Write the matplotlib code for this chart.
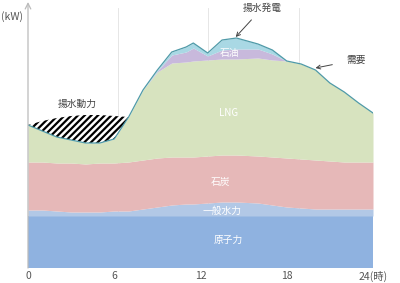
import matplotlib
matplotlib.use("Agg")
import matplotlib.pyplot as plt
import numpy as np

plt.rcParams['font.family'] = ['Noto Sans CJK JP', 'DejaVu Sans']
plt.rcParams['hatch.linewidth'] = 1.6

# hours of day (extra points around the midday peak)
hours = [0, 1, 2, 3, 4, 5, 6, 7, 8, 9, 10, 11, 11.5, 12.5, 13.5, 14.5,
         16, 17, 18, 19, 20, 21, 22, 23, 24]

# cumulative tops of each stacked layer (arbitrary kW units)
nuclear = [52] * len(hours)
hydro = [58, 58, 57, 56, 56, 56, 57, 57, 59, 61, 63, 64, 64, 65, 66, 66,
         65, 63, 61, 60, 59, 59, 59, 59, 59]
coal = [106, 106, 105, 105, 104, 105, 105, 106, 108, 110, 111, 111, 111, 112, 113, 113,
        112, 111, 110, 109, 108, 107, 106, 106, 106]
lng = [143, 137, 131, 128, 125, 125, 129, 151, 178, 196, 205, 206, 207, 208, 209, 209,
       210, 208, 207, 204, 198, 185, 176, 165, 155]
oil = [143, 137, 131, 128, 125, 125, 129, 151, 178, 197, 213, 216, 220, 212, 218, 219,
       219, 214, 207, 204, 198, 185, 176, 165, 155]
demand = [143, 137, 131, 128, 125, 125, 129, 151, 178, 198, 216, 221, 225, 215, 228, 230,
          224, 218, 207, 204, 198, 185, 176, 165, 155]

# pumping power (night), top of the hatched area
pump_hours = [0, 1, 2, 3, 4, 5, 6, 7]
pump_top = [143, 147, 150, 152, 153, 153, 152, 151]

c_nuclear = '#8fb2e0'
c_hydro = '#b2c8e6'
c_coal = '#e6b8b8'
c_lng = '#d7e3bf'
c_oil = '#c8b9dc'
c_pump = '#a9d8e4'
c_line = '#4f9aa8'
c_text = '#444444'
c_axis = '#bbbbbb'

fig = plt.figure(figsize=(4.0, 2.83), dpi=100)
ax = fig.add_axes([28 / 400, 15 / 283, 345 / 400, 265 / 283])

x = np.array(hours)
ax.fill_between(x, 0, nuclear, color=c_nuclear, lw=0, zorder=2)
ax.fill_between(x, nuclear, hydro, color=c_hydro, lw=0, zorder=2)
ax.fill_between(x, hydro, coal, color=c_coal, lw=0, zorder=2)
ax.fill_between(x, coal, lng, color=c_lng, lw=0, zorder=2)
ax.fill_between(x, lng, oil, color=c_oil, lw=0, zorder=2)
ax.fill_between(x, oil, demand, color=c_pump, lw=0, zorder=2)
ax.plot(x, demand, color=c_line, lw=0.9, zorder=4)

pump_base = lng[:len(pump_hours)]
ax.fill_between(pump_hours, pump_base, pump_top, facecolor='white',
                edgecolor='black', hatch='/////', lw=0, zorder=3)

# faint vertical guides
for gx in [6.26, 12.52, 18.85]:
    ax.plot([gx, gx], [0, 260], color='#e6e6e6', lw=0.7, zorder=1)

ax.set_xlim(0, 24)
ax.set_ylim(0, 265)
for s in ax.spines.values():
    s.set_visible(False)
ax.set_yticks([])
ax.set_xticks([0, 6, 12, 18, 24])
ax.set_xticklabels(['0', '6', '12', '18', '24(時)'], color='#555555', fontsize=7.5)
ax.tick_params(axis='x', length=0, pad=2)

# y axis with arrow
ax.annotate('', xy=(0, 266), xytext=(0, 0),
            arrowprops=dict(arrowstyle='->', color=c_axis, lw=0.9,
                            shrinkA=0, shrinkB=0),
            annotation_clip=False, zorder=5)
fig.text(1 / 400, 1 - 17 / 283, '(kW)', color='#555555', fontsize=7.5,
         va='center', ha='left')

# layer labels
fs = 7
ax.text(14.0, 215, '石油', color='white', fontsize=fs, ha='center', va='center', zorder=6)
ax.text(13.95, 155, 'LNG', color='white', fontsize=fs, ha='center', va='center', zorder=6)
ax.text(13.4, 86, '石炭', color='white', fontsize=fs, ha='center', va='center', zorder=6)
ax.text(13.5, 57, '一般水力', color='white', fontsize=fs, ha='center', va='center', zorder=6)
ax.text(13.95, 28, '原子力', color='white', fontsize=fs, ha='center', va='center', zorder=6)

ax.text(3.45, 164, '揚水動力', color=c_text, fontsize=fs, ha='center', va='center', zorder=6)

ax.annotate('揚水発電', xy=(14.45, 231), xytext=(16.3, 260),
            color=c_text, fontsize=fs, ha='center', va='center',
            arrowprops=dict(arrowstyle='->', color=c_text, lw=0.7,
                            shrinkA=4, shrinkB=0),
            annotation_clip=False, zorder=6)
ax.annotate('需要', xy=(20.0, 200), xytext=(22.8, 208),
            color=c_text, fontsize=fs, ha='center', va='center',
            arrowprops=dict(arrowstyle='->', color=c_text, lw=0.7,
                            shrinkA=8, shrinkB=0),
            annotation_clip=False, zorder=6)

fig.savefig('out.png', dpi=100)
